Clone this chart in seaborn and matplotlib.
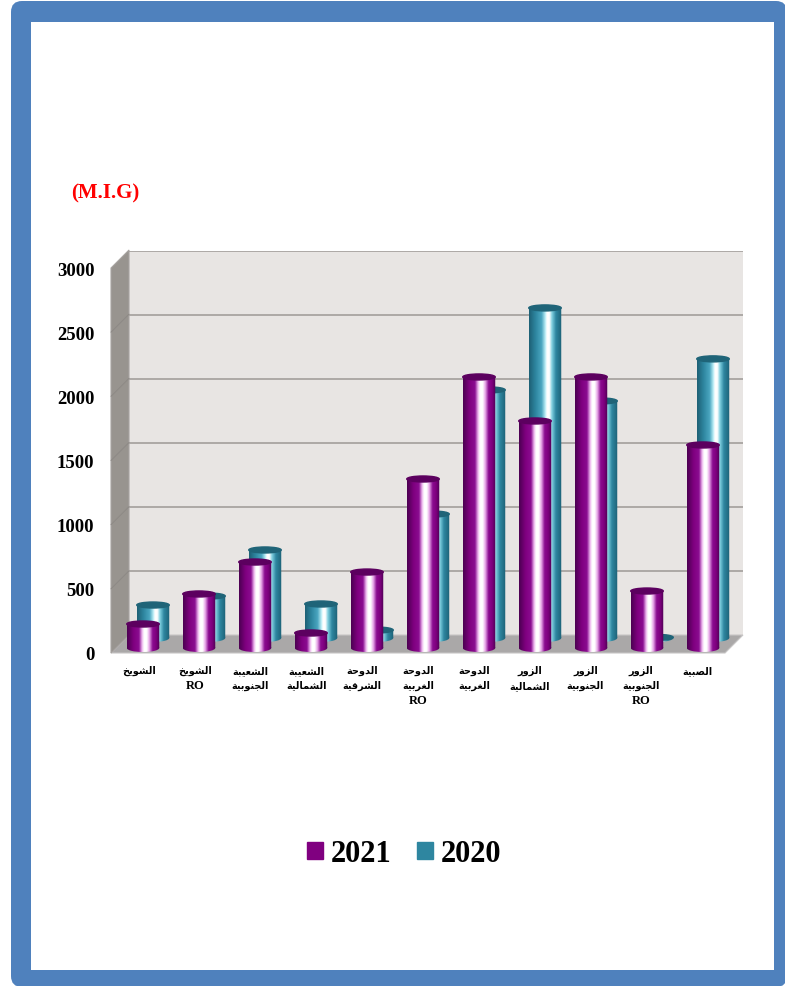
import numpy as np
import pandas as pd
import matplotlib
matplotlib.use('Agg')
import matplotlib.pyplot as plt
import seaborn as sns
from matplotlib.colors import LinearSegmentedColormap
from matplotlib.patches import Ellipse, FancyBboxPatch, Patch, Polygon, Rectangle
from matplotlib.path import Path
from matplotlib.transforms import Affine2D

# Data
categories = ['الشويخ', 'الشويخ\nRO', 'الشعيبة\nالجنوبية', 'الشعيبة\nالشمالية',
              'الدوحة\nالشرقية', 'الدوحة\nالغربية\nRO', 'الدوحة\nالغربية',
              'الزور\nالشمالية', 'الزور\nالجنوبية', 'الزور\nالجنوبية\nRO', 'الصبية']
values_2021 = [187, 421, 670, 117, 592, 1317, 2112, 1769, 2112, 444, 1582]
values_2020 = [257, 327, 686, 265, 62, 966, 1933, 2572, 1847, 5, 2175]
y_ticks = [0, 500, 1000, 1500, 2000, 2500, 3000]
unit_label = '(M.I.G)'
series_names = ['2021', '2020']

W, H = 785, 987
PX_Y = 385 / 3000  # pixels per unit
PX_X = 614 / 11    # pixels per category
SERIF = ['Liberation Serif', 'DejaVu Sans']

# matplotlib does no Arabic shaping, so map letters to their presentation forms
FOUR_FORMS = {'ل': 0xFEDD, 'ش': 0xFEB5, 'ي': 0xFEF1, 'خ': 0xFEA5, 'ع': 0xFEC9, 'ب': 0xFE8F,
              'ج': 0xFE9D, 'ن': 0xFEE5, 'م': 0xFEE1, 'ح': 0xFEA1, 'ق': 0xFED5, 'غ': 0xFECD, 'ص': 0xFEB9}
TWO_FORMS = {'ا': 0xFE8D, 'و': 0xFEED, 'ة': 0xFE93, 'د': 0xFEA9, 'ر': 0xFEAD, 'ز': 0xFEAF}


def shape_line(line):
    out = []
    for i, ch in enumerate(line):
        prev_joins = i > 0 and line[i - 1] in FOUR_FORMS
        next_joins = i < len(line) - 1 and ch in FOUR_FORMS
        if ch in TWO_FORMS:
            out.append(chr(TWO_FORMS[ch] + (1 if prev_joins else 0)))
        elif prev_joins and next_joins:
            out.append(chr(FOUR_FORMS[ch] + 3))
        elif next_joins:
            out.append(chr(FOUR_FORMS[ch] + 2))
        elif prev_joins:
            out.append(chr(FOUR_FORMS[ch] + 1))
        else:
            out.append(chr(FOUR_FORMS[ch]))
    return ''.join(reversed(out))


def arabic_part(label):
    return '\n'.join(shape_line(l) for l in label.split('\n') if l != 'RO')


def plane_axes(fig, left, zero_y, width):
    # one axes per depth plane, all with the same value scale
    ax = fig.add_axes([left / W, 1 - zero_y / H, width / W, 385 / H])
    ax.patch.set_alpha(0)
    return ax


def draw_cylinders(ax, fig, cmap, cap_color):
    cap_h = 6 / PX_Y
    foot_h = 8 / PX_Y
    gradient = np.linspace(0, 1, 128).reshape(1, -1)
    for bar in list(ax.patches):
        x0, x1 = bar.get_x(), bar.get_x() + bar.get_width()
        top = bar.get_height()
        mid = (x0 + x1) / 2
        w = x1 - x0
        body = Path([(x0, 0), (x1, 0), (x1, top), (x0, top), (x0, 0)], closed=True)
        foot = Path.unit_circle().transformed(Affine2D().scale(w / 2, foot_h / 2).translate(mid, 0))
        im = ax.imshow(gradient, extent=[x0, x1, -foot_h, top], aspect='auto', cmap=cmap,
                       vmin=0, vmax=1, zorder=3, interpolation='bilinear')
        im.set_clip_box(fig.bbox)
        im.set_clip_path(Path.make_compound_path(body, foot), ax.transData)
        ax.add_patch(Ellipse((mid, top), w, cap_h, color=cap_color, zorder=4, clip_on=False))
        bar.set_visible(False)
    ax.set_xlim(-0.5, 10.5)
    ax.set_ylim(0, 3000)
    ax.axis('off')


sns.set_theme(style='white')
plt.rcParams['font.family'] = SERIF
plt.rcParams['font.weight'] = 'bold'

fig = plt.figure(figsize=(W / 100, H / 100), dpi=100, facecolor='white')

# Blue page frame
page = fig.add_axes([0, 0, 1, 1])
page.set_xlim(0, W)
page.set_ylim(H, 0)
page.axis('off')
page.add_patch(FancyBboxPatch((11, 2), 776, 986, boxstyle='round,pad=0,rounding_size=11',
                              fc='#4f81bd', ec='none', clip_on=False))
page.add_patch(Rectangle((31, 22.5), 743, 948, fc='white', ec='none'))

purple_cmap = LinearSegmentedColormap.from_list(
    'purple', [(0, '#4c0052'), (0.2, '#800080'), (0.36, '#8a0c90'), (0.46, '#f0bcf0'), (0.52, '#ffffff'),
               (0.6, '#ffffff'), (0.68, '#e8a8e8'), (0.78, '#8a0c90'), (0.88, '#800080'), (1, '#4c0052')])
teal_cmap = LinearSegmentedColormap.from_list(
    'teal', [(0, '#1d6075'), (0.2, '#2e86a0'), (0.38, '#4aa6c0'), (0.5, '#c0f0f8'), (0.55, '#ffffff'),
             (0.62, '#ffffff'), (0.7, '#80d0e0'), (0.82, '#2e86a0'), (1, '#1d6075')])

# Back wall with the gridlines
wall = plane_axes(fig, 129, 636.5, 614)
wall.set_xlim(0, 1)
wall.set_ylim(0, 3000)
wall.set_facecolor('#e8e5e3')
wall.patch.set_alpha(1)
wall.set_yticks(y_ticks)
wall.set_xticks([])
wall.tick_params(labelleft=False, length=0)
wall.grid(axis='y', color='#a8a4a1', lw=1.3)
sns.despine(ax=wall, left=True, bottom=True, top=True, right=True)

# Front plane: axis labels, floor and side wall
front = plane_axes(fig, 111, 654, 614)
front.set_xlim(-0.5, 10.5)
front.set_ylim(0, 3000)
front.set_xticks(range(len(categories)))
front.set_xticklabels([arabic_part(c) for c in categories], fontsize=7.0, fontweight='bold',
                      linespacing=1.62, color='black')
front.set_yticks(y_ticks)
front.set_yticklabels([str(v) for v in y_ticks], fontsize=13.5, fontweight='bold', color='black')
front.tick_params(axis='x', length=0, pad=8.5)
front.tick_params(axis='y', length=0, pad=12)
sns.despine(ax=front, left=True, bottom=True, top=True, right=True)

# The RO lines are set larger than the Arabic ones
for i, label in enumerate(categories):
    lines = label.split('\n')
    if lines[-1] == 'RO':
        front.annotate('RO', xy=(i, 0), xycoords=front.get_xaxis_transform(),
                       xytext=(0, -(17 + 15 * (len(lines) - 1)) * 0.72), textcoords='offset points',
                       ha='center', va='center', fontsize=9, fontweight='bold', color='black')

dx, dy = 18 / PX_X, 18 / PX_Y
front.add_patch(Polygon([(-0.5, 0), (-0.5 + dx, dy), (10.5 + dx, dy), (10.5, 0)],
                        fc='#aaa8a8', ec='#c8c6c6', lw=0.8, clip_on=False, zorder=1))
front.add_patch(Polygon([(-0.5, 0), (-0.5, 3000), (-0.5 + dx, 3000 + dy), (-0.5 + dx, dy)],
                        fc='#98948f', ec='#a8a4a1', lw=0.8, clip_on=False, zorder=2))
for v in y_ticks[1:-1]:
    front.plot([-0.5, -0.5 + dx], [v, v + dy], color='#8d8985', lw=0.7, clip_on=False, zorder=3)

# Rear series, then front series
rear = plane_axes(fig, 125, 639, 616)
sns.barplot(x=categories, y=values_2020, color='#2e86a0', width=0.58, saturation=1, ax=rear)
draw_cylinders(rear, fig, teal_cmap, '#1f6478')

near = plane_axes(fig, 115, 649, 616)
sns.barplot(x=categories, y=values_2021, color='#800080', width=0.58, saturation=1, ax=near)
draw_cylinders(near, fig, purple_cmap, '#5c005f')

fig.text(105 / W, 1 - 193 / H, unit_label, color='red', fontsize=15, fontweight='bold',
         ha='center', va='center')

handles = [Patch(color='#800080', label=series_names[0]), Patch(color='#2e86a0', label=series_names[1])]
fig.legend(handles=handles, loc='center', bbox_to_anchor=(404 / W, 1 - 855 / H), ncol=2, frameon=False,
           prop={'family': SERIF, 'weight': 'bold', 'size': 22}, handlelength=0.52, handleheight=0.5,
           handletextpad=0.25, columnspacing=0.85, labelcolor='black')

fig.savefig('out.png', dpi=100)
